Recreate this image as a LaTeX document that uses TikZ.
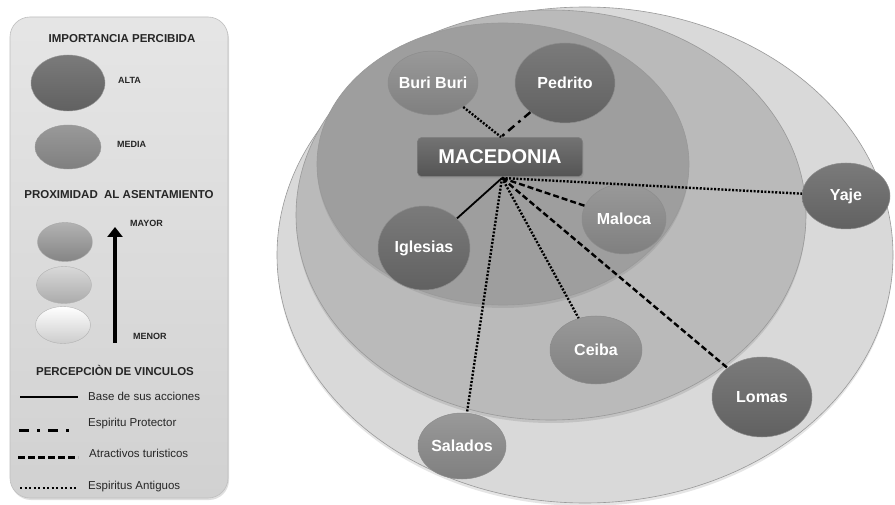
\documentclass[tikz,border=0pt]{standalone}
\usepackage{fontspec}
\setmainfont{Liberation Sans}
\usetikzlibrary{shapes.geometric,arrows.meta,shadows}
\definecolor{panelTop}{gray}{0.90}
\definecolor{panelBot}{gray}{0.82}
\definecolor{ringOuter}{gray}{0.85}
\definecolor{ringMid}{gray}{0.73}
\definecolor{ringInner}{gray}{0.62}
\definecolor{darkTop}{gray}{0.48}
\definecolor{darkBot}{gray}{0.38}
\definecolor{medTop}{gray}{0.60}
\definecolor{medBot}{gray}{0.50}
\definecolor{macTop}{gray}{0.45}
\definecolor{macBot}{gray}{0.33}
\tikzset{
  heading/.style={font=\bfseries\fontsize{11.5}{13}\selectfont, text=black!85, inner sep=0pt},
  smallcap/.style={font=\bfseries\fontsize{9}{10}\selectfont, text=black!85, inner sep=0pt, anchor=west},
  legtext/.style={font=\fontsize{11.5}{13}\selectfont, text=black!85, inner sep=0pt, anchor=west},
  bubble/.style={ellipse, inner sep=0pt, draw=black!45, line width=0.5pt},
  altanode/.style={bubble, top color=darkTop, bottom color=darkBot},
  medianode/.style={bubble, top color=medTop, bottom color=medBot},
  nodelabel/.style={font=\bfseries\fontsize{16}{18}\selectfont, text=white, inner sep=0pt},
  ring/.style={draw=black!40, line width=0.6pt},
  solidlink/.style={line width=1.8pt},
  dotlink/.style={line width=2.4pt, dash pattern=on 2pt off 1.6pt},
  dashlink/.style={line width=2.4pt, dash pattern=on 6pt off 3pt},
  dashdotlink/.style={line width=2.4pt, dash pattern=on 8pt off 5pt on 3pt off 5pt},
}
\begin{document}
\begin{tikzpicture}[x=1pt,y=-1pt]
\useasboundingbox (0,0) rectangle (895,505);
\fill[white] (0,0) rectangle (895,505);

% ---------- legend panel ----------
\shade[rounded corners=20pt, top color=panelTop, bottom color=panelBot, draw=black!25, line width=0.6pt,
  drop shadow={opacity=0.25, shadow xshift=1pt, shadow yshift=-2pt}]
  (10,17) rectangle (228,498);

\node[heading] (hImp) at (122,39) {IMPORTANCIA PERCIBIDA};
\node[ellipse, inner sep=0pt, minimum width=74pt, minimum height=56pt, top color=darkTop, bottom color=darkBot, draw=black!40] (lgAlta) at (68,83) {};
\node[smallcap] (tAlta) at (118,80) {ALTA};
\node[ellipse, inner sep=0pt, minimum width=66pt, minimum height=44pt, top color=medTop, bottom color=medBot, draw=black!40] (lgMedia) at (68,147) {};
\node[smallcap] (tMedia) at (117,144) {MEDIA};

\node[heading] (hProx) at (119,195) {PROXIMIDAD\ \ AL ASENTAMIENTO};
\node[ellipse, inner sep=0pt, minimum width=55pt, minimum height=39pt, top color=black!30, bottom color=black!48, draw=black!35] (lgP1) at (65,242) {};
\node[ellipse, inner sep=0pt, minimum width=55pt, minimum height=37pt, top color=black!15, bottom color=black!33, draw=black!30] (lgP2) at (64,285) {};
\node[ellipse, inner sep=0pt, minimum width=55pt, minimum height=37pt, top color=white, bottom color=black!20, draw=black!30] (lgP3) at (63,325) {};
\coordinate (arrLow) at (115,343);
\coordinate (arrHigh) at (115,227);
\draw[line width=3.5pt, -{Triangle[width=15pt,length=10pt]}] (arrLow) -- (arrHigh);
\node[smallcap] (tMayor) at (130,223) {MAYOR};
\node[smallcap] (tMenor) at (133,336) {MENOR};

\node[heading] (hPerc) at (115,370) {PERCEPCIÒN DE VINCULOS};
\coordinate (l1a) at (20,397); \coordinate (l1b) at (78,397);
\draw[line width=2pt] (l1a) -- (l1b);
\node[legtext] (tBase) at (88,396) {Base de sus acciones};
\coordinate (l2a) at (19,430); \coordinate (l2b) at (73,430);
\draw[line width=3pt, dash pattern=on 10pt off 8pt on 3pt off 8pt] (l2a) -- (l2b);
\node[legtext] (tProt) at (88,424) {Espiritu Protector};
\coordinate (l3a) at (18,457); \coordinate (l3b) at (78,457);
\draw[line width=3pt, dash pattern=on 7pt off 3pt] (l3a) -- (l3b);
\node[legtext] (tTur) at (89,453) {Atractivos turisticos};
\coordinate (l4a) at (20,488); \coordinate (l4b) at (78,488);
\draw[line width=2.5pt, dash pattern=on 2pt off 2.5pt] (l4a) -- (l4b);
\node[legtext] (tAnt) at (88,487) {Espiritus Antiguos};

% ---------- concentric areas ----------
\fill[ring, fill=ringOuter, drop shadow={opacity=0.2, shadow xshift=0pt, shadow yshift=-3pt}]
  (585,255) ellipse [x radius=308, y radius=248];
\fill[ring, fill=ringMid, drop shadow={opacity=0.25, shadow xshift=0pt, shadow yshift=-3pt}]
  (551,215) ellipse [x radius=255, y radius=205];
\fill[ring, fill=ringInner, drop shadow={opacity=0.25, shadow xshift=0pt, shadow yshift=-3pt}]
  (503,164) ellipse [x radius=186, y radius=141];

% ---------- nodes ----------
\node[medianode, minimum width=90pt, minimum height=64pt] (buri) at (433,83) {};
\node[nodelabel] (buriT) at (buri) {Buri Buri};
\node[altanode, minimum width=100pt, minimum height=80pt] (pedrito) at (565,83) {};
\node[nodelabel] (pedritoT) at (pedrito) {Pedrito};
\node[altanode, minimum width=92pt, minimum height=84pt] (iglesias) at (424,248) {};
\node[nodelabel] (iglesiasT) at (iglesias) {Iglesias};
\node[medianode, minimum width=84pt, minimum height=70pt] (maloca) at (624,219) {};
\node[nodelabel] (malocaT) at (maloca) {Maloca};
\node[altanode, minimum width=88pt, minimum height=66pt] (yaje) at (846,196) {};
\node[nodelabel] (yajeT) at (yaje) {Yaje};
\node[medianode, minimum width=92pt, minimum height=68pt] (ceiba) at (596,350) {};
\node[nodelabel] (ceibaT) at (ceiba) {Ceiba};
\node[altanode, minimum width=100pt, minimum height=80pt] (lomas) at (762,397) {};
\node[nodelabel] (lomasT) at (lomas) {Lomas};
\node[medianode, minimum width=88pt, minimum height=66pt] (salados) at (462,446) {};
\node[nodelabel] (saladosT) at (salados) {Salados};

\node[rectangle, rounded corners=4pt, minimum width=165pt, minimum height=39pt, inner sep=0pt,
  top color=macTop, bottom color=macBot, draw=black!50, line width=0.5pt,
  font=\bfseries\fontsize{20}{22}\selectfont, text=white,
  drop shadow={opacity=0.3, shadow xshift=1pt, shadow yshift=-2pt}] (mac) at (500,157) {MACEDONIA};
\coordinate (hub) at (502,178);
\coordinate (top) at (501,137);

% ---------- connectors ----------
\draw[dotlink] (buri) -- (top);
\draw[dashdotlink] (pedrito) -- (top);
\draw[solidlink] (hub) -- (iglesias);
\draw[dotlink] (hub) -- (yaje);
\draw[dashlink] (hub) -- (maloca);
\draw[dashlink] (hub) -- (lomas);
\draw[dotlink] (hub) -- (ceiba);
\draw[dotlink] (hub) -- (salados);
\end{tikzpicture}
\end{document}
